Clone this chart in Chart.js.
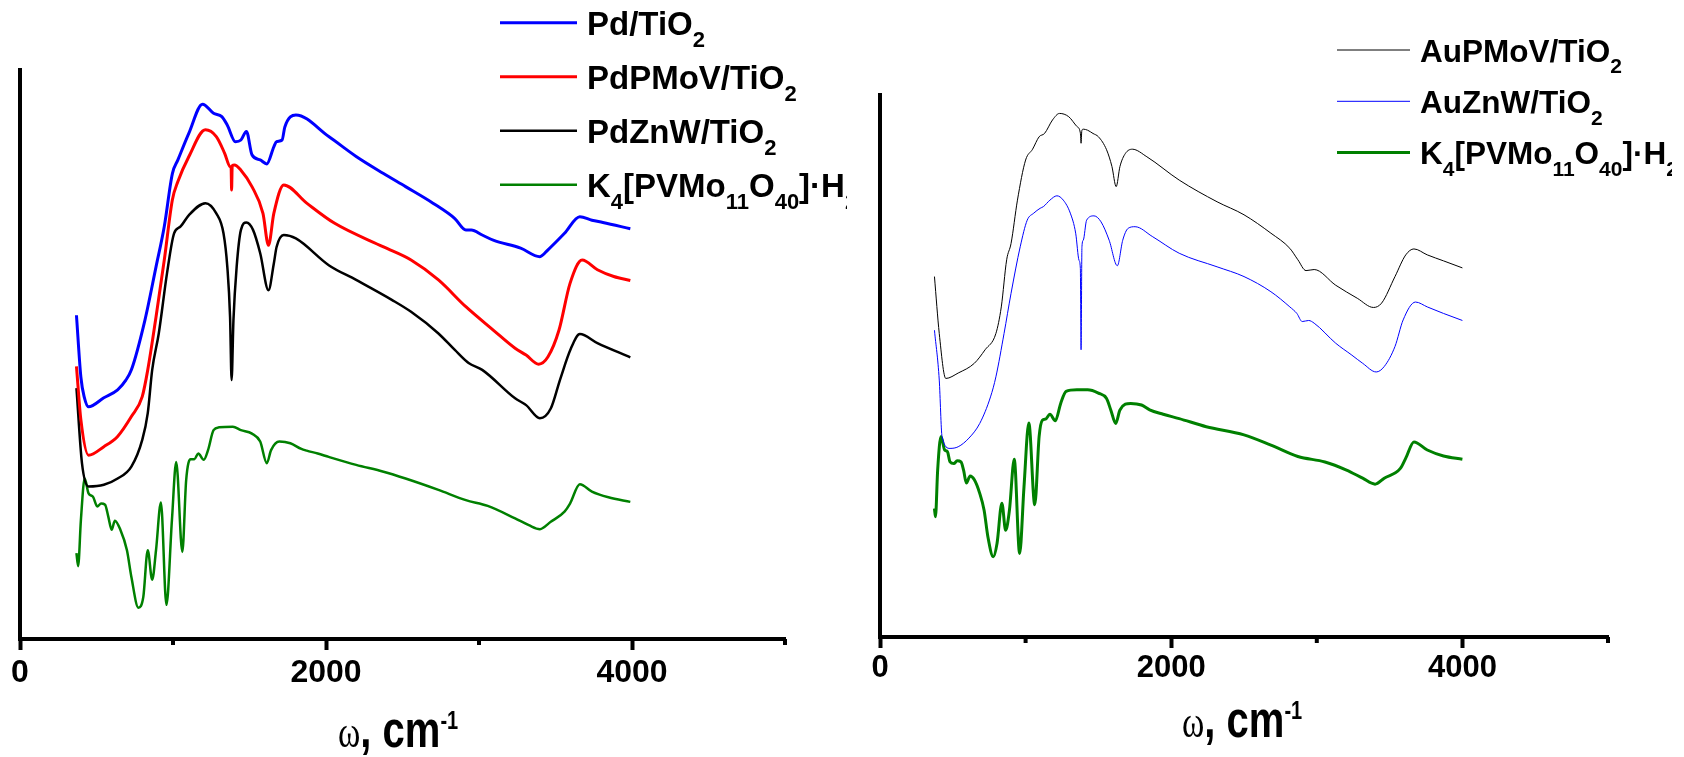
<!DOCTYPE html>
<html>
<head>
<meta charset="utf-8">
<title>IR spectra</title>
<script src="https://cdn.jsdelivr.net/npm/chart.js@4.4.1/dist/chart.umd.min.js"></script>
<style>
  html, body { margin: 0; padding: 0; background: #fff; }
  #wrap { position: relative; width: 1684px; height: 757px; overflow: hidden; }
  #left { position: absolute; left: 0; top: 0; }
  #right { position: absolute; left: 847px; top: 0; }
</style>
</head>
<body>
<div id="wrap">
  <canvas id="left" width="847" height="757"></canvas>
  <canvas id="right" width="825" height="757"></canvas>
</div>
<script>
// wavenumber (cm-1) / intensity (a.u., 0-100) pairs, read point by point

// left panel: Pd catalysts
const pdTiO2_w = [369, 398, 420, 448, 548, 638, 692, 728, 817, 889, 943, 996, 1032, 1104, 1193, 1265, 1319, 1355, 1408, 1444, 1480, 1516, 1570, 1613, 1659, 1677, 1713, 1731, 1803, 2018, 2197, 2376, 2520, 2699, 2842, 2914, 2950, 3021, 3093, 3272, 3398, 3451, 3559, 3659, 3738, 3810, 3989];
const pdTiO2_a = [56.9, 46.0, 42.5, 40.8, 42.4, 43.8, 45.5, 47.3, 56.1, 65.4, 72.5, 81.8, 84.2, 88.9, 94.0, 92.4, 91.8, 90.3, 87.4, 87.7, 89.2, 85.1, 84.2, 83.5, 86.5, 87.4, 87.7, 90.0, 92.1, 88.3, 84.8, 81.8, 79.5, 76.6, 73.9, 71.9, 71.9, 71.0, 70.1, 68.7, 67.2, 68.4, 71.3, 74.2, 73.6, 73.2, 72.1];

const pdPMoV_w = [369, 398, 448, 548, 638, 728, 799, 835, 889, 943, 996, 1032, 1104, 1212, 1283, 1337, 1373, 1380, 1383, 1387, 1401, 1444, 1516, 1588, 1624, 1659, 1724, 1874, 2054, 2376, 2556, 2735, 2914, 3093, 3236, 3308, 3390, 3451, 3523, 3595, 3674, 3774, 3881, 3989];
const pdPMoV_a = [47.9, 38.5, 32.3, 33.8, 35.6, 39.1, 42.6, 47.3, 56.6, 66.6, 77.2, 80.4, 84.8, 89.5, 88.3, 85.4, 83.0, 82.7, 78.9, 83.2, 83.3, 82.4, 79.5, 74.8, 69.2, 74.8, 79.8, 76.6, 73.1, 68.9, 66.6, 63.1, 58.4, 54.3, 51.1, 49.9, 48.3, 49.6, 54.3, 62.5, 66.6, 64.9, 63.7, 63.0];

const pdZnW_w = [369, 405, 448, 548, 638, 728, 799, 835, 864, 907, 961, 1007, 1050, 1104, 1212, 1283, 1330, 1355, 1373, 1383, 1395, 1416, 1444, 1480, 1523, 1570, 1624, 1659, 1677, 1724, 1803, 2018, 2197, 2430, 2556, 2735, 2842, 2932, 3021, 3236, 3308, 3398, 3469, 3530, 3600, 3659, 3774, 3989];
const pdZnW_a = [44.1, 30.9, 26.8, 27.1, 28.2, 30.3, 35.0, 39.7, 47.3, 53.7, 64.3, 71.3, 72.5, 74.5, 76.6, 74.8, 71.3, 65.4, 56.6, 45.5, 56.0, 65.4, 71.9, 73.2, 71.9, 67.8, 61.3, 66.0, 68.9, 71.0, 70.4, 65.7, 63.1, 59.6, 57.5, 53.7, 50.8, 48.5, 47.3, 42.3, 41.1, 38.8, 40.5, 45.6, 51.0, 53.6, 52.0, 49.5];

const hpa1_w = [369, 380, 398, 423, 448, 477, 505, 530, 556, 577, 599, 620, 656, 699, 728, 774, 806, 835, 864, 889, 921, 957, 993, 1021, 1061, 1086, 1115, 1140, 1165, 1201, 1229, 1265, 1301, 1391, 1444, 1516, 1570, 1613, 1641, 1695, 1767, 1839, 1874, 1946, 2018, 2197, 2376, 2520, 2735, 2914, 3057, 3236, 3326, 3398, 3469, 3559, 3595, 3659, 3738, 3846, 3989];
const hpa1_a = [15.1, 12.8, 20.9, 28.2, 25.6, 25.0, 23.3, 23.8, 23.6, 21.5, 19.2, 20.8, 19.2, 15.6, 10.9, 5.5, 7.4, 15.6, 10.4, 15.6, 24.0, 6.0, 20.9, 31.1, 15.3, 27.9, 31.6, 31.6, 32.6, 31.5, 33.2, 36.7, 37.2, 37.3, 36.7, 36.1, 34.7, 30.9, 33.2, 34.7, 34.4, 33.4, 33.1, 32.6, 32.0, 30.6, 29.4, 28.2, 26.2, 24.4, 23.4, 21.2, 20.0, 19.3, 20.6, 22.4, 23.8, 27.2, 25.9, 24.9, 24.1];

// right panel: Au catalysts
const auPMoV_w = [374, 407, 452, 537, 648, 722, 796, 833, 870, 900, 944, 1000, 1048, 1093, 1130, 1185, 1233, 1296, 1352, 1376, 1381, 1386, 1396, 1426, 1463, 1500, 1556, 1593, 1622, 1648, 1685, 1733, 1833, 2055, 2315, 2500, 2685, 2815, 2870, 2926, 2982, 3130, 3278, 3389, 3445, 3537, 3611, 3667, 3759, 3870, 4000];
const auPMoV_a = [66.5, 56.0, 47.7, 48.7, 50.5, 53.0, 56.0, 60.9, 69.6, 72.6, 80.6, 88.0, 90.0, 92.3, 92.9, 95.4, 96.6, 96.0, 94.2, 93.0, 91.1, 93.4, 93.7, 93.5, 92.9, 92.3, 89.9, 86.8, 83.1, 86.8, 89.2, 90.0, 88.6, 84.3, 80.3, 77.9, 74.5, 71.7, 69.6, 67.6, 67.8, 64.9, 62.5, 60.8, 61.6, 66.5, 70.5, 71.6, 70.5, 69.4, 68.1];

const auZnW_w = [374, 407, 426, 481, 537, 611, 685, 759, 796, 852, 900, 963, 1011, 1056, 1100, 1122, 1167, 1215, 1259, 1307, 1344, 1367, 1376, 1381, 1387, 1396, 1419, 1470, 1518, 1574, 1630, 1667, 1704, 1752, 1870, 2055, 2315, 2500, 2685, 2815, 2863, 2900, 2944, 2982, 3130, 3241, 3315, 3408, 3463, 3537, 3593, 3678, 3759, 3870, 4000];
const auZnW_a = [56.6, 47.4, 37.0, 34.8, 35.1, 36.7, 39.4, 44.3, 48.0, 56.0, 63.4, 72.0, 76.9, 78.2, 79.1, 79.4, 80.6, 81.4, 80.6, 78.2, 74.5, 69.5, 68.0, 53.0, 72.0, 73.2, 76.9, 77.7, 76.6, 73.2, 68.5, 73.2, 75.4, 75.7, 73.9, 70.8, 68.3, 66.5, 63.7, 60.9, 59.7, 58.2, 58.4, 57.9, 54.2, 52.0, 50.5, 48.9, 49.9, 53.6, 58.5, 61.8, 60.9, 59.7, 58.4];

const hpa2_w = [374, 381, 396, 419, 444, 463, 481, 507, 530, 556, 574, 593, 619, 648, 685, 715, 741, 778, 804, 837, 863, 889, 922, 959, 989, 1022, 1063, 1093, 1115, 1137, 1167, 1204, 1241, 1278, 1352, 1426, 1500, 1556, 1585, 1619, 1648, 1722, 1796, 1852, 1945, 2055, 2241, 2500, 2685, 2870, 3056, 3204, 3315, 3400, 3463, 3574, 3611, 3667, 3759, 3870, 4000];
const hpa2_a = [23.7, 22.2, 30.8, 37.0, 34.5, 34.2, 32.3, 32.0, 32.5, 32.3, 30.8, 28.4, 29.7, 29.0, 26.5, 23.4, 18.5, 14.8, 17.3, 24.7, 19.7, 23.4, 32.8, 15.4, 27.7, 39.5, 24.4, 37.0, 40.0, 40.2, 41.1, 39.9, 43.1, 45.3, 45.6, 45.6, 45.0, 44.0, 41.9, 39.4, 41.9, 43.1, 42.8, 41.9, 41.1, 40.3, 38.8, 37.3, 35.4, 33.3, 32.3, 30.8, 29.3, 28.2, 29.3, 31.1, 33.0, 36.0, 34.5, 33.4, 32.8];

// labels: _{..} is a subscript, ^{..} a superscript
const leftLabels = ["Pd/TiO_{2}", "PdPMoV/TiO_{2}", "PdZnW/TiO_{2}", "K_{4}[PVMo_{11}O_{40}]·H_{2}O"];
const rightLabels = ["AuPMoV/TiO_{2}", "AuZnW/TiO_{2}", "K_{4}[PVMo_{11}O_{40}]·H_{2}O"];
const xSymbol = "ω";
const xUnit = ", cm^{-1}";
const xTickLabels = [0, 2000, 4000];
const xMinorTicks = [1000, 3000, 5000];

const FONT = '"Liberation Sans", Arial, sans-serif';

function pts(w, a) {
  return w.map((x, i) => ({ x: x, y: a[i] }));
}

function richParts(str) {
  const out = [];
  const re = /([_^])\{([^}]*)\}/g;
  let last = 0, m;
  while ((m = re.exec(str))) {
    if (m.index > last) out.push({ text: str.slice(last, m.index), mark: "" });
    out.push({ text: m[2], mark: m[1] });
    last = re.lastIndex;
  }
  if (last < str.length) out.push({ text: str.slice(last), mark: "" });
  return out;
}

function drawRich(ctx, str, x, y, st) {
  for (const p of richParts(str)) {
    let size = st.size, dy = 0;
    if (p.mark === "_") { size = st.subSize; dy = st.subDy; }
    if (p.mark === "^") { size = st.supSize; dy = st.supDy; }
    ctx.font = "bold " + size + "px " + FONT;
    ctx.fillText(p.text, x, y + dy);
    x += ctx.measureText(p.text).width;
  }
  return x;
}

// legend with sub/superscripts, drawn straight onto the canvas
function legendPlugin(cfg) {
  return {
    id: "specLegend",
    afterDraw(chart) {
      const ctx = chart.ctx;
      ctx.save();
      chart.data.datasets.forEach((ds, i) => {
        const y = cfg.top + i * cfg.gap;
        ctx.strokeStyle = ds.borderColor;
        ctx.lineWidth = ds.borderWidth;
        ctx.beginPath();
        ctx.moveTo(cfg.x, y);
        ctx.lineTo(cfg.x + cfg.len, y);
        ctx.stroke();
        ctx.fillStyle = "#000";
        ctx.textAlign = "left";
        ctx.textBaseline = "alphabetic";
        drawRich(ctx, ds.label, cfg.x + cfg.len + cfg.pad, y + cfg.base, cfg);
      });
      ctx.restore();
    }
  };
}

// x axis title "ω, cm-1", set in a condensed face
function titlePlugin(cfg) {
  return {
    id: "wTitle",
    afterDraw(chart) {
      const ctx = chart.ctx;
      ctx.save();
      ctx.translate(cfg.x, 0);
      ctx.scale(cfg.sx, 1);
      ctx.fillStyle = "#000";
      ctx.textAlign = "left";
      ctx.textBaseline = "alphabetic";
      ctx.font = cfg.omega + 'px "Liberation Serif", serif';
      ctx.fillText(xSymbol, 0, cfg.y);
      const x = ctx.measureText(xSymbol).width;
      drawRich(ctx, xUnit, x, cfg.y, cfg);
      ctx.restore();
    }
  };
}

// short ticks between the labelled ones
const minorTicks = {
  id: "minorTicks",
  afterDraw(chart) {
    const sc = chart.scales.x, ctx = chart.ctx;
    ctx.save();
    ctx.strokeStyle = "#000";
    ctx.lineWidth = 4;
    xMinorTicks.forEach(v => {
      const px = sc.getPixelForValue(v);
      ctx.beginPath();
      ctx.moveTo(px, sc.top);
      ctx.lineTo(px, sc.top + 6);
      ctx.stroke();
    });
    ctx.restore();
  }
};

function scales(tickSize, tickPad, axisH) {
  return {
    x: {
      type: "linear",
      min: 0,
      max: 5000,
      border: { display: true, width: 4, color: "#000" },
      grid: {
        display: true,
        drawOnChartArea: false,
        drawTicks: true,
        tickLength: 11,
        tickWidth: 4,
        lineWidth: 1,
        tickColor: c => (c.tick && xTickLabels.includes(c.tick.value)) ? "#000" : "rgba(0,0,0,0)"
      },
      ticks: {
        stepSize: 1000,
        autoSkip: false,
        maxRotation: 0,
        padding: tickPad,
        color: "#000",
        font: { family: FONT, size: tickSize, weight: "bold" },
        callback: v => xTickLabels.includes(v) ? String(v) : ""
      },
      afterFit: s => { s.height = axisH; }
    },
    y: {
      min: 0,
      max: 100,
      border: { display: true, width: 4, color: "#000" },
      grid: { display: false },
      ticks: { display: false },
      afterFit: s => { s.width = 0; }
    }
  };
}

function line(label, w, a, color, width) {
  return {
    label: label,
    data: pts(w, a),
    borderColor: color,
    borderWidth: width,
    pointRadius: 0,
    fill: false,
    cubicInterpolationMode: "monotone"
  };
}

new Chart(document.querySelector("#left"), {
  type: "line",
  data: {
    datasets: [
      line(leftLabels[0], pdTiO2_w, pdTiO2_a, "#0000ff", 3),
      line(leftLabels[1], pdPMoV_w, pdPMoV_a, "#ff0000", 3),
      line(leftLabels[2], pdZnW_w, pdZnW_a, "#000000", 2.5),
      line(leftLabels[3], hpa1_w, hpa1_a, "#008000", 2.5)
    ]
  },
  options: {
    responsive: false,
    animation: false,
    layout: { padding: { left: 20, right: 62, top: 70, bottom: 0 } },
    plugins: { legend: { display: false }, tooltip: { enabled: false } },
    scales: scales(32, 4, 118)
  },
  plugins: [
    minorTicks,
    legendPlugin({ x: 500, top: 22.7, gap: 54, len: 77, pad: 10, base: 12.5, size: 33, subSize: 22, subDy: 12, supSize: 18, supDy: -14 }),
    titlePlugin({ x: 338, y: 747, sx: 0.77, omega: 44, size: 52, supSize: 26, supDy: -18.5, subSize: 26, subDy: 10 })
  ]
});

new Chart(document.querySelector("#right"), {
  type: "line",
  data: {
    datasets: [
      line(rightLabels[0], auPMoV_w, auPMoV_a, "#000000", 1),
      line(rightLabels[1], auZnW_w, auZnW_a, "#0000ff", 1),
      line(rightLabels[2], hpa2_w, hpa2_a, "#008000", 3)
    ]
  },
  options: {
    responsive: false,
    animation: false,
    layout: { padding: { left: 33, right: 64, top: 95, bottom: 0 } },
    plugins: { legend: { display: false }, tooltip: { enabled: false } },
    scales: scales(31, 2, 120)
  },
  plugins: [
    minorTicks,
    legendPlugin({ x: 490, top: 50, gap: 51.3, len: 73, pad: 10, base: 11.7, size: 31.5, subSize: 21, subDy: 11.5, supSize: 18, supDy: -14 }),
    titlePlugin({ x: 335, y: 737, sx: 0.77, omega: 44, size: 52, supSize: 26, supDy: -18.5, subSize: 26, subDy: 10 })
  ]
});
</script>
</body>
</html>
